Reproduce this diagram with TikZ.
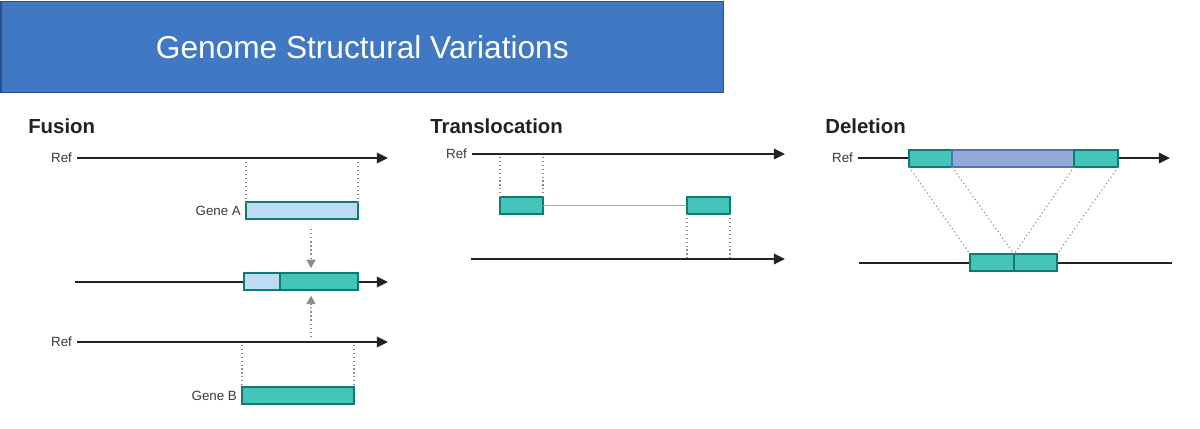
\documentclass[tikz,border=0pt]{standalone}
\usepackage{fontspec}
\setmainfont{Liberation Sans}
\usetikzlibrary{arrows.meta,positioning}
\definecolor{svteal}{HTML}{45C4B9}
\definecolor{svtealdark}{HTML}{0F7A6F}
\definecolor{svlight}{HTML}{BDDCF3}
\definecolor{svdel}{HTML}{94AAD6}
\definecolor{svdeldark}{HTML}{4D70BF}
\definecolor{svtitle}{HTML}{4178C4}
\definecolor{svtitledark}{HTML}{2A4F8E}
\definecolor{svink}{HTML}{222222}
\tikzstyle{titlebox}=[rectangle,draw=svtitledark,fill=svtitle,line width=1pt,inner sep=0pt,minimum width=18.05cm,minimum height=2.28cm,text=white,font=\fontsize{22.5}{26}\selectfont]
\tikzstyle{heading}=[anchor=west,inner sep=0pt,text=svink,font=\bfseries\fontsize{14.5}{17}\selectfont]
\tikzstyle{reflabel}=[inner sep=0pt,text=svink!90,font=\fontsize{9.5}{11}\selectfont]
\tikzstyle{dna}=[line width=1.4pt,draw=svink]
\tikzstyle{dnaarrow}=[dna,-{Triangle[length=8pt,width=7.5pt]}]
\tikzstyle{guide}=[dotted,draw=gray!90,line width=0.8pt]
\tikzstyle{merge}=[dotted,draw=gray!90,line width=0.9pt,-{Triangle[length=6pt,width=6.5pt]}]
\tikzstyle{link}=[draw=gray!70,line width=0.8pt]
\tikzstyle{genea}=[rectangle,draw=svtealdark,fill=svlight,line width=1.1pt,inner sep=0pt,outer sep=0pt,minimum height=0.425cm]
\tikzstyle{geneb}=[genea,fill=svteal]
\tikzstyle{deleted}=[genea,draw=svdeldark,fill=svdel]

\begin{document}
\begin{tikzpicture}[x=0.025cm,y=-0.025cm]
    \useasboundingbox (0,0) rectangle (1200,428);

    % Titel
    \node[titlebox, anchor=north west] (title) at (0.5,0.5) {Genome Structural Variations};

    % Fusion
    \node[heading] (fus) at (28,126) {Fusion};
    \coordinate (fr1s) at (77,158);
    \coordinate (fr1e) at (388,158);
    \coordinate (fmids) at (75,282);
    \coordinate (fmide) at (388,282);
    \coordinate (fr2s) at (77,342);
    \coordinate (fr2e) at (388,342);
    \node[reflabel, left=0.12cm of fr1s] (fref1) {Ref};
    \node[reflabel, left=0.12cm of fr2s] (fref2) {Ref};
    \draw [dnaarrow] (fr1s) -- (fr1e);
    \draw [dnaarrow] (fmids) -- (fmide);
    \draw [dnaarrow] (fr2s) -- (fr2e);
    \node[genea, anchor=north west, minimum width=2.8cm] (gA) at (246,202) {};
    \node[reflabel, left=0.12cm of gA] (labA) {Gene A};
    \node[genea, anchor=north west, minimum width=0.9cm] (fA) at (244,273) {};
    \node[geneb, right=0pt of fA, minimum width=1.95cm] (fB) {};
    \node[geneb, anchor=north west, minimum width=2.8cm] (gB) at (242,387) {};
    \node[reflabel, left=0.12cm of gB] (labB) {Gene B};
    \draw [guide, shorten <=3pt] (gA.north west |- fr1s) -- (gA.north west);
    \draw [guide, shorten <=3pt] (gA.north east |- fr1s) -- (gA.north east);
    \draw [guide, shorten <=2pt] (gB.north west |- fr2s) -- (gB.north west);
    \draw [guide, shorten <=2pt] (gB.north east |- fr2s) -- (gB.north east);
    \coordinate (fdown) at (311,229);
    \coordinate (fup) at (311,337);
    \draw [merge, shorten >=3.5pt] (fdown) -- (fdown |- fB.north);
    \draw [merge, shorten >=4pt] (fup) -- (fup |- fB.south);

    % Translocation
    \node[heading] (trans) at (430,126) {Translocation};
    \coordinate (tr1s) at (472,154);
    \coordinate (tr1e) at (785,154);
    \coordinate (tr2s) at (471,259);
    \coordinate (tr2e) at (785,259);
    \node[reflabel, left=0.12cm of tr1s] (tref) {Ref};
    \draw [dnaarrow] (tr1s) -- (tr1e);
    \draw [dnaarrow] (tr2s) -- (tr2e);
    \node[geneb, anchor=north west, minimum width=1.075cm] (t1) at (500,197) {};
    \node[geneb, anchor=north west, minimum width=1.075cm] (t2) at (687,197) {};
    \draw [link] (t1) -- (t2);
    \draw [guide, shorten <=2pt] (t1.north west |- tr1s) -- (t1.north west);
    \draw [guide, shorten <=2pt] (t1.north east |- tr1s) -- (t1.north east);
    \draw [guide] (t2.south west) -- (t2.south west |- tr2s);
    \draw [guide] (t2.south east) -- (t2.south east |- tr2s);

    % Deletion
    \node[heading] (del) at (825,126) {Deletion};
    \coordinate (dr1s) at (858,158);
    \coordinate (dr1e) at (1170,158);
    \coordinate (dr2s) at (859,263);
    \coordinate (dr2e) at (1172,263);
    \node[reflabel, left=0.12cm of dr1s] (dref) {Ref};
    \draw [dnaarrow] (dr1s) -- (dr1e);
    \draw [dna] (dr2s) -- (dr2e);
    \node[geneb, anchor=north west, minimum width=1.075cm] (d1) at (909,150) {};
    \node[deleted, right=0pt of d1, minimum width=3.05cm] (d2) {};
    \node[geneb, right=0pt of d2, minimum width=1.1cm] (d3) {};
    \node[geneb, anchor=north west, minimum width=1.1cm] (e1) at (970,254) {};
    \node[geneb, right=0pt of e1, minimum width=1.075cm] (e2) {};
    \draw [guide] (d1.south west) -- (e1.north west);
    \draw [guide] (d2.south west) -- (e1.north east);
    \draw [guide] (d3.south west) -- (e2.north west);
    \draw [guide] (d3.south east) -- (e2.north east);

\end{tikzpicture}
\end{document}
